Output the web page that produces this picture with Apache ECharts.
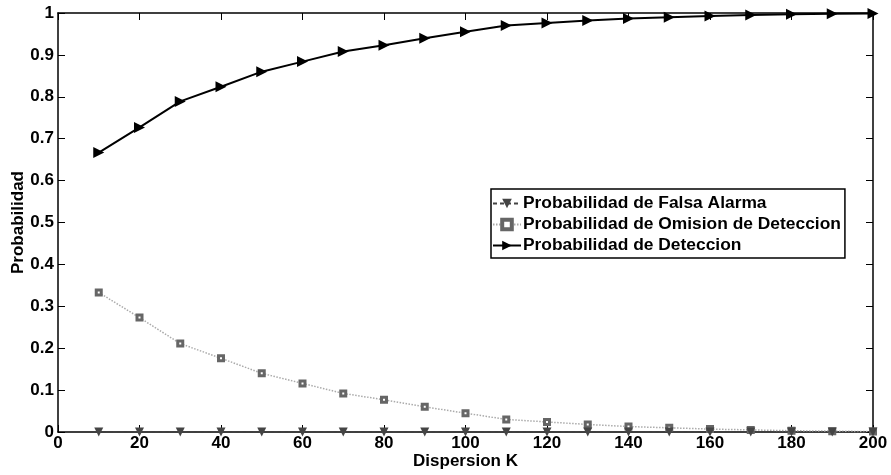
<!DOCTYPE html>
<html><head><meta charset="utf-8">
<script src="https://cdn.jsdelivr.net/npm/echarts@6/dist/echarts.min.js"></script>
<style>html,body{margin:0;padding:0;background:#fff}#c{width:891px;height:475px}</style>
</head><body><div id="c"></div>
<script>
const kValues = [10,20,30,40,50,60,70,80,90,100,110,120,130,140,150,160,170,180,190,200];
const falsaAlarma = [0,0,0,0,0,0,0,0,0,0,0,0,0,0,0,0,0,0,0,0];
const omision = [0.333,0.273,0.211,0.176,0.140,0.116,0.092,0.077,0.060,0.045,0.030,0.024,0.018,0.013,0.010,0.007,0.005,0.003,0.002,0.001];
const deteccion = [0.667,0.727,0.789,0.824,0.860,0.884,0.908,0.923,0.940,0.955,0.970,0.976,0.982,0.987,0.990,0.993,0.995,0.997,0.998,0.999];
const seriesNames = ['Probabilidad de Falsa Alarma','Probabilidad de Omision de Deteccion','Probabilidad de Deteccion'];

const font = 'Liberation Sans, Helvetica, Arial, sans-serif';
const pair = arr => kValues.map((k,i)=>[k,arr[i]]);
const chart = echarts.init(document.getElementById('c'));
const axisCommon = {
  axisLine:{show:true,onZero:false,lineStyle:{color:'#000',width:1.5}},
  axisTick:{show:true,inside:true,length:7,lineStyle:{color:'#000',width:1}},
  splitLine:{show:false}
};
chart.setOption({
  animation:false,
  backgroundColor:'#fff',
  grid:{left:58,right:18,top:13,bottom:43,show:false,containLabel:false,outerBoundsMode:'none'},
  xAxis:[
    Object.assign({type:'value',min:0,max:200,interval:20,position:'bottom',
      name:'Dispersion K',nameLocation:'middle',nameGap:21,nameMoveOverlap:false,
      nameTextStyle:{fontFamily:font,fontWeight:'bold',fontSize:17,color:'#000'},
      axisLabel:{fontFamily:font,fontWeight:'bold',fontSize:17,color:'#000',margin:3}},axisCommon),
    Object.assign({type:'value',min:0,max:200,interval:20,position:'top',axisLabel:{show:false}},axisCommon)
  ],
  yAxis:[
    Object.assign({type:'value',min:0,max:1,interval:0.1,position:'left',
      name:'Probabilidad',nameLocation:'middle',nameGap:31,nameMoveOverlap:false,
      nameTextStyle:{fontFamily:font,fontWeight:'bold',fontSize:17,color:'#000'},
      axisLabel:{fontFamily:font,fontWeight:'bold',fontSize:17,color:'#000',margin:4}},axisCommon),
    Object.assign({type:'value',min:0,max:1,interval:0.1,position:'right',axisLabel:{show:false}},axisCommon)
  ],
  legend:{
    orient:'vertical',left:491,top:189,
    data:[
      {name:seriesNames[0]},
      {name:seriesNames[1],itemStyle:{borderWidth:4}},
      {name:seriesNames[2]}
    ],
    backgroundColor:'#fff',borderColor:'#000',borderWidth:1.5,borderRadius:0,
    padding:[6,4,4,1],itemGap:4,itemWidth:28,itemHeight:12,
    textStyle:{fontFamily:font,fontWeight:'bold',fontSize:17.4,color:'#000',padding:[0,0,0,-3]}
  },
  series:[
    {name:seriesNames[0],type:'line',data:pair(falsaAlarma),symbol:'triangle',symbolRotate:180,symbolSize:9,
     lineStyle:{color:'#444',width:1.2,type:[4,3]},itemStyle:{color:'#444'},z:3},
    {name:seriesNames[1],type:'line',data:pair(omision),symbol:'rect',symbolSize:5,
     lineStyle:{color:'#aaa',width:1.5,type:[1.5,1.5]},itemStyle:{color:'#fff',borderColor:'#666',borderWidth:3},z:2},
    {name:seriesNames[2],type:'line',data:pair(deteccion),symbol:'triangle',symbolRotate:-90,symbolSize:11,
     lineStyle:{color:'#000',width:2},itemStyle:{color:'#000'},z:4}
  ]
});
</script></body></html>
